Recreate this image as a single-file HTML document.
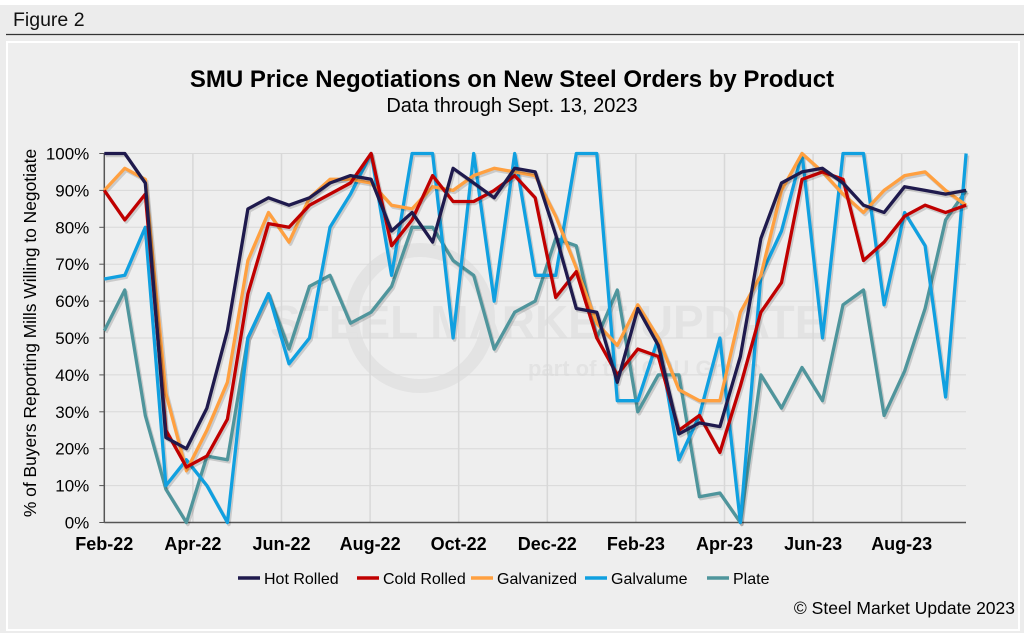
<!DOCTYPE html>
<html><head><meta charset="utf-8"><style>
body{margin:0;width:1024px;height:633px;background:#ffffff;font-family:"Liberation Sans",sans-serif;overflow:hidden;}
#wrap{position:absolute;left:0;top:5px;width:1024px;height:628px;background:#ececec;}
</style></head><body>
<div id="wrap"></div>
<svg id="chart" width="1024" height="633" style="position:absolute;left:0;top:0">
<text x="13" y="26" font-size="19.5" fill="#111">Figure 2</text>
<line x1="6" y1="34.5" x2="1024" y2="34.5" stroke="#333" stroke-width="1.2"/>
<rect x="7" y="42" width="1012" height="588" fill="#eeeeee" stroke="#ffffff" stroke-width="2"/>
<text x="512" y="87" font-size="24" font-weight="bold" text-anchor="middle" fill="#000">SMU Price Negotiations on New Steel Orders by Product</text>
<text x="512" y="112" font-size="20" text-anchor="middle" fill="#000">Data through Sept. 13, 2023</text>
<g opacity="0.35">
<circle cx="420" cy="318" r="68" fill="none" stroke="#cfcfcf" stroke-width="14"/>
<text x="270" y="338" font-size="46" font-weight="bold" fill="#cfcfcf">STEEL MARKET UPDATE</text>
<text x="528" y="376" font-size="22" font-weight="bold" fill="#cfcfcf">part of the CRU Group</text>
</g>
<text transform="translate(36,333) rotate(-90)" font-size="17.4" text-anchor="middle" fill="#000">% of Buyers Reporting Mills Willing to Negotiate</text>
<g id="grid"></g><g id="yt"></g><g id="xt"></g><g id="series"></g>
<g id="legend"></g>
<text x="1015" y="614" font-size="17.5" text-anchor="end" fill="#000">© Steel Market Update 2023</text>
</svg>
<script>
const monthLabels=["Feb-22","Apr-22","Jun-22","Aug-22","Oct-22","Dec-22","Feb-23","Apr-23","Jun-23","Aug-23"];
const monthOffsets=[0,2,4,6,8,10,12,14,16,18];
const yTicks=[0,10,20,30,40,50,60,70,80,90,100];
const seriesNames=["Hot Rolled","Cold Rolled","Galvanized","Galvalume","Plate"];
const seriesColors=["#1f1a4d","#c00000","#ffa040","#10a0e0","#4f959c"];
const hotRolled=[100,100,92,23,20,31,52,85,88,86,88,92,94,93,79,84,76,96,92,88,96,95,78,58,57,38,58,48,24,27,26,45,77,92,95,96,92,86,84,91,90,89,90];
const coldRolled=[90,82,89,25,15,18,28,62,81,80,86,89,92,100,75,82,94,87,87,90,94,88,61,68,50,40,47,45,25,29,19,37,57,65,93,95,93,71,76,83,86,84,86];
const galvanized=[90,96,93,35,14,25,38,71,84,76,88,93,93,92,86,85,91,90,94,96,95,94,83,69,54,48,59,50,36,33,33,57,67,90,100,95,89,84,90,94,95,90,86];
const galvalume=[66,67,80,10,17,10,0,50,62,43,50,80,89,100,67,100,100,50,100,60,100,67,67,100,100,33,33,50,17,29,50,0,67,79,100,50,100,100,59,84,75,34,100];
const plate=[52,63,29,9,0,18,17,50,62,47,64,67,54,57,64,80,80,71,67,47,57,60,77,75,50,63,30,40,40,7,8,0,40,31,42,33,59,63,29,41,58,82,90];
const allSeries=[hotRolled,coldRolled,galvanized,galvalume,plate];
const NS="http://www.w3.org/2000/svg";
const X0=104.3,STEP=20.52,Y0=522.5,YPX=3.69,XEND=966;
const xIdx=i=>X0+i*STEP;
const xMonth=m=>X0+m*44.3;
const yVal=v=>Y0-v*YPX;
function mk(tag,attrs,parent){const e=document.createElementNS(NS,tag);for(const k in attrs)e.setAttribute(k,attrs[k]);parent.appendChild(e);return e;}
const grid=document.getElementById('grid'),yt=document.getElementById('yt'),xt=document.getElementById('xt'),sg=document.getElementById('series'),lg=document.getElementById('legend');
yTicks.forEach(t=>{
  const l=mk('line',{x1:X0,x2:XEND,y1:yVal(t),y2:yVal(t),stroke:'#d8d8d8','stroke-width':1},grid);
  
  
  const tk=mk('line',{x1:X0-5,x2:X0,y1:yVal(t),y2:yVal(t),stroke:'#555'},yt);
  
  
  const tx=mk('text',{x:X0-15,y:yVal(t)+6,'font-size':17,'text-anchor':'end',fill:'#000'},yt);
  tx.textContent=t+'%';
  
  
});
monthOffsets.forEach((m,k)=>{
  const x=xMonth(m);
  if(k>0){const l=mk('line',{x1:x,x2:x,y1:yVal(100),y2:Y0,stroke:'#d8d8d8','stroke-width':1.5},grid);
  
  }
  const tx=mk('text',{x:x,y:550,'font-size':18,'font-weight':'bold','text-anchor':'middle',fill:'#000'},xt);
  tx.textContent=monthLabels[k];
  
  
});
const ax=mk('line',{x1:X0,x2:X0,y1:yVal(100),y2:Y0,stroke:'#555','stroke-width':1.5},grid);


const bx=mk('line',{x1:X0,x2:XEND,y1:Y0,y2:Y0,stroke:'#555','stroke-width':1.5},grid);


[4,3,2,1,0].forEach(s=>{
  const d=allSeries[s];
  const pts=d.map((v,i)=>xIdx(i).toFixed(1)+','+yVal(v).toFixed(1)).join(' ');
  const sh=mk('polyline',{points:pts,fill:'none',stroke:'rgba(0,0,0,0.15)','stroke-width':3.5,transform:'translate(1.5,2)','stroke-linejoin':'round'},sg);
  
  
  const p=mk('polyline',{points:pts,fill:'none',stroke:seriesColors[s],'stroke-width':3.3,'stroke-linejoin':'round'},sg);
  
  
});
const legX=[238,357,471,585,707];
seriesNames.forEach((n,s)=>{
  const g=mk('g',{},lg);
  
  
  mk('line',{x1:legX[s],x2:legX[s]+22,y1:578,y2:578,stroke:seriesColors[s],'stroke-width':3.5},g);
  const t=mk('text',{x:legX[s]+26,y:584,'font-size':16,fill:'#000'},g);
  t.textContent=n;
});
</script>
</body></html>
